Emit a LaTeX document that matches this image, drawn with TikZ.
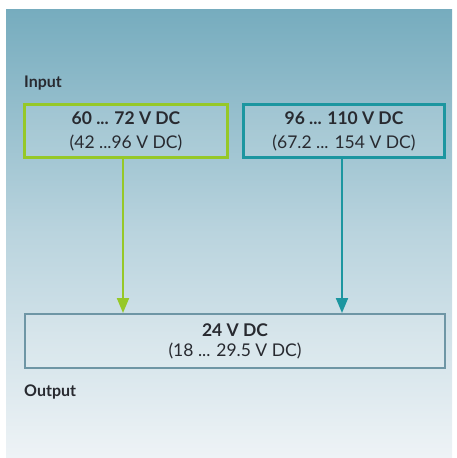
\documentclass[tikz,border=0pt]{standalone}
\usepackage{fontspec}
\setmainfont{Lato}
\usetikzlibrary{arrows.meta}
\definecolor{bgtop}{RGB}{118,172,190}
\definecolor{bgmid}{RGB}{186,212,222}
\definecolor{bgbot}{RGB}{238,243,246}
\definecolor{txt}{RGB}{40,42,48}
\definecolor{grn}{RGB}{150,200,40}
\definecolor{tea}{RGB}{28,150,160}
\definecolor{outc}{RGB}{110,150,165}
\tikzset{
  vbox/.style={draw, line width=2.4pt, fill=white, fill opacity=0.12, text opacity=1, text=txt, align=center, inner sep=0pt},
  inbox/.style={vbox, font=\fontsize{17.5}{24}\selectfont},
  outbox/.style={vbox, font=\fontsize{17.5}{20}\selectfont},
  lbl/.style={text=txt, font=\fontsize{16}{18}\selectfont\bfseries, anchor=base west, inner sep=0pt},
  arr/.style={line width=2pt, -{Triangle[length=15pt,width=12pt]}}
}
\begin{document}
\begin{tikzpicture}[x=1pt,y=-1pt]
\useasboundingbox (0,0) rectangle (456,458);
\fill[top color=bgtop, bottom color=bgbot, middle color=bgmid] (6,9) rectangle (452,458);
\node[lbl] (inlab) at (24,87) {Input};
\node[inbox, draw=grn, minimum width=203pt, minimum height=53pt] (in1) at (126,131)
  {\textbf{60 ... 72 V DC}\\(42 ...96 V DC)};
\node[inbox, draw=tea, minimum width=201pt, minimum height=53pt] (in2) at (344,131)
  {\textbf{96 ... 110 V DC}\\(67.2 ... 154 V DC)};
\node[outbox, draw=outc, line width=2pt, minimum width=420pt, minimum height=54pt] (out) at (235,341)
  {\textbf{24 V DC}\\(18 ... 29.5 V DC)};
\node[lbl] (outlab) at (24,396) {Output};
\draw[arr, grn] ([xshift=-3pt]in1.south) -- ([xshift=-3pt]in1.south |- out.north);
\draw[arr, tea] ([xshift=-2pt]in2.south) -- ([xshift=-2pt]in2.south |- out.north);
\end{tikzpicture}
\end{document}
